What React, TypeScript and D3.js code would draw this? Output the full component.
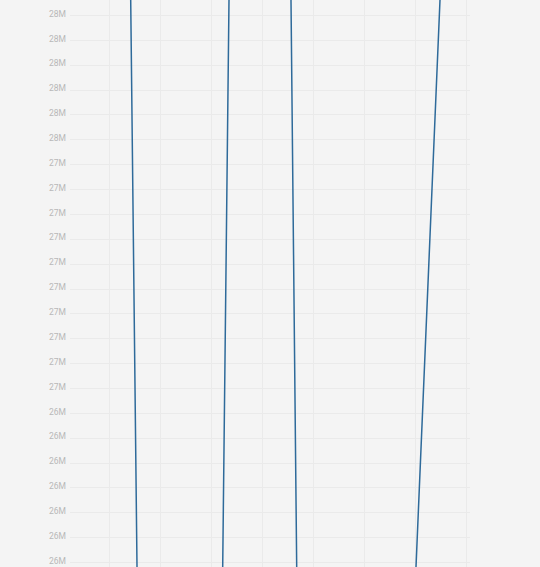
import React from "react";
import * as d3 from "d3";

// ---- data ----
const yTickValues = [
  28.0e6, 27.9e6, 27.8e6, 27.7e6, 27.6e6, 27.5e6, 27.4e6, 27.3e6, 27.2e6, 27.1e6, 27.0e6, 26.9e6,
  26.8e6, 26.7e6, 26.6e6, 26.5e6, 26.4e6, 26.3e6, 26.2e6, 26.1e6, 26.0e6, 25.9e6, 25.8e6,
];
const xGridValues = [1, 2, 3, 4, 5, 6, 7, 8];
const seriesX = [1, 2.396, 3.995, 5.131, 8];
const seriesY = [36.1e6, 10.27e6, 39.84e6, 16.62e6, 30.55e6];

// ---- layout ----
const W = 540;
const H = 567;
const plotLeft = 70;
const plotRight = 470;

export default function App() {
  const x = d3.scaleLinear().domain([1, 8]).range([108.5, 466.2]);
  const y = d3.scaleLinear().domain([25.8e6, 28.0e6]).range([562, 15]);
  const fmt = d3.format(".2s");
  const pts = seriesX.map((v, i) => [v, seriesY[i]] as [number, number]);
  const line = d3
    .line<[number, number]>()
    .x((d) => x(d[0]))
    .y((d) => y(d[1]));

  return (
    <svg
      width={W}
      height={H}
      style={{ position: "absolute", left: 0, top: 0, display: "block", background: "#f4f4f4" }}
    >
      <rect x={0} y={0} width={W} height={H} fill="#f4f4f4" />
      <g>
        {yTickValues.map((t) => (
          <line
            key={"h" + t}
            x1={plotLeft}
            x2={plotRight}
            y1={Math.round(y(t)) + 0.5}
            y2={Math.round(y(t)) + 0.5}
            stroke="#eaeaea"
            strokeWidth={1}
          />
        ))}
        {xGridValues.map((t) => (
          <line
            key={"v" + t}
            x1={Math.round(x(t)) + 0.5}
            x2={Math.round(x(t)) + 0.5}
            y1={0}
            y2={H}
            stroke="#eaeaea"
            strokeWidth={1}
          />
        ))}
      </g>
      <g fontFamily="Roboto, 'Noto Sans', sans-serif" fontSize={8.5} fill="#b8b8b8" textAnchor="end">
        {yTickValues.map((t) => (
          <text key={"l" + t} x={66} y={y(t)} dy="0.2em">
            {fmt(t)}
          </text>
        ))}
      </g>
      <path d={line(pts) || ""} fill="none" stroke="#2e6a9a" strokeWidth={1.5} />
    </svg>
  );
}
